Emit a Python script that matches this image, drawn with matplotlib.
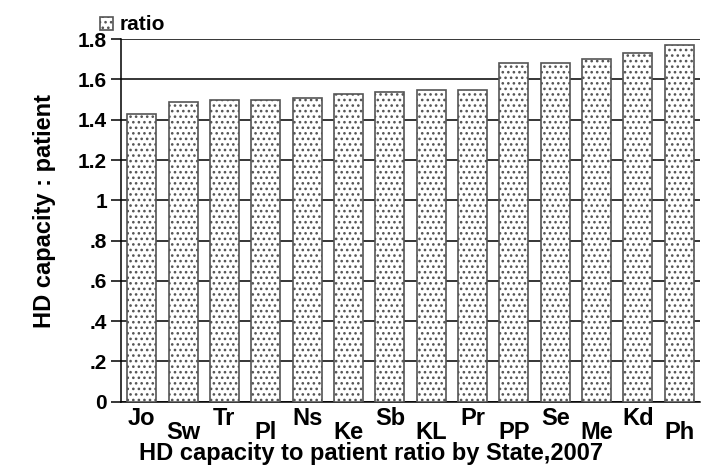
import matplotlib
matplotlib.use("Agg")
import matplotlib.pyplot as plt
import numpy as np

plt.rcParams['font.family'] = ['Liberation Sans', 'DejaVu Sans']
plt.rcParams['font.weight'] = 'bold'
plt.rcParams['hatch.linewidth'] = 1.1
plt.rcParams['hatch.color'] = '#333333'

states = ['Jo', 'Sw', 'Tr', 'Pl', 'Ns', 'Ke', 'Sb', 'KL', 'Pr', 'PP', 'Se', 'Me', 'Kd', 'Ph']
ratio = [1.43, 1.49, 1.50, 1.50, 1.51, 1.53, 1.54, 1.55, 1.55, 1.68, 1.68, 1.70, 1.73, 1.77]
yticks = [0, 0.2, 0.4, 0.6, 0.8, 1.0, 1.2, 1.4, 1.6, 1.8]
ytick_labels = ['0', '.2', '.4', '.6', '.8', '1', '1.2', '1.4', '1.6', '1.8']

fig = plt.figure(figsize=(7.09, 4.72), dpi=100)
ax = fig.add_axes([0.1707, 0.149, 0.8166, 0.768])

x = np.arange(len(states))
ax.bar(x, ratio, width=0.7, color='white', edgecolor='#555555', linewidth=1.2,
       hatch='...', label='ratio', zorder=3)

ax.set_xlim(-0.5, len(states) - 0.5)
ax.set_ylim(0, 1.8)
ax.set_yticks(yticks, ytick_labels)
ax.yaxis.grid(True, color='black', linewidth=1.1, zorder=0)
ax.set_axisbelow(True)

for s in ['top', 'right']:
    ax.spines[s].set_visible(False)
ax.spines['left'].set_linewidth(1.1)
ax.spines['bottom'].set_linewidth(1.1)

# staggered category labels
ax.set_xticks(x[::2], states[::2])
ax.set_xticks(x[1::2], states[1::2], minor=True)
ax.tick_params(axis='x', which='major', length=0, pad=4, labelsize=17)
ax.tick_params(axis='x', which='minor', length=0, pad=14, labelsize=17)
ax.tick_params(axis='y', length=7, width=1.1, pad=3, labelsize=15)

ax.set_xlabel('HD capacity to patient ratio by State,2007', fontsize=17, fontweight='bold')
ax.xaxis.set_label_coords((371 - 121) / 579, -0.112)
ax.set_ylabel('HD capacity : patient', fontsize=17, fontweight='bold')
ax.yaxis.set_label_coords(-0.113, 0.526)

leg = ax.legend(loc='lower left', bbox_to_anchor=(-0.05, 0.99), frameon=False,
                fontsize=15, handlelength=0.6, handleheight=0.6, handletextpad=0.3,
                borderaxespad=0)

fig.savefig('out.png', dpi=100)
